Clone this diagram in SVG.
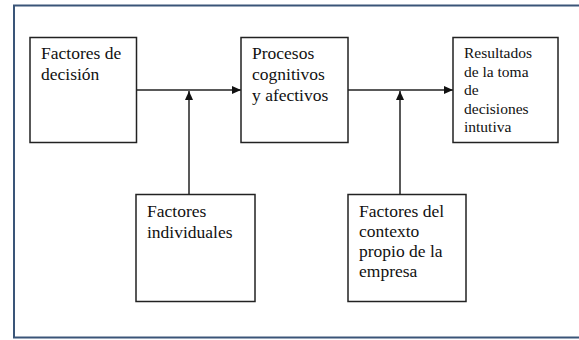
<svg xmlns="http://www.w3.org/2000/svg" width="579" height="340" viewBox="0 0 579 340">
<style>
.box{fill:#fff;stroke:#222;stroke-width:1.5}
text{font-family:"Liberation Serif","Times New Roman",Times,serif;fill:#111}
.t{font-size:17.5px}
.ts{font-size:15.5px}
.c{stroke:#222;stroke-width:1.5;fill:none}
</style>
<defs>
<marker id="ah" markerWidth="10" markerHeight="8" refX="9" refY="4" orient="auto" markerUnits="userSpaceOnUse">
<path d="M0,0 L9,4 L0,8 Z" fill="#111"/>
</marker>
</defs>
<rect x="0" y="0" width="579" height="340" fill="#fff"/>
<rect id="frame" x="14" y="5.5" width="570" height="332" fill="#fff" stroke="#3a5578" stroke-width="2"/>
<g id="connectors">
<line class="c" x1="136.5" y1="90" x2="241" y2="90" marker-end="url(#ah)"/>
<line class="c" x1="189" y1="194" x2="189" y2="91" marker-end="url(#ah)"/>
<line class="c" x1="348" y1="90" x2="453" y2="90" marker-end="url(#ah)"/>
<line class="c" x1="400" y1="194" x2="400" y2="91" marker-end="url(#ah)"/>
</g>
<g id="n1"><rect class="box" x="30" y="37.5" width="106.5" height="105"/>
<text class="t" x="41" y="59">Factores de</text><text class="t" x="41" y="80">decisión</text></g>
<g id="n2"><rect class="box" x="241" y="37.5" width="107" height="105"/>
<text class="t" x="252" y="59">Procesos</text><text class="t" x="252" y="80">cognitivos</text><text class="t" x="252" y="101">y afectivos</text></g>
<g id="n3"><rect class="box" x="453" y="37.5" width="105" height="105"/>
<text class="ts" x="464" y="58">Resultados</text><text class="ts" x="464" y="76.5">de la toma</text><text class="ts" x="464" y="95">de</text><text class="ts" x="464" y="113.5">decisiones</text><text class="ts" x="464" y="132">intutiva</text></g>
<g id="n4"><rect class="box" x="136" y="194.5" width="119" height="107"/>
<text class="t" x="147" y="217">Factores</text><text class="t" x="147" y="238">individuales</text></g>
<g id="n5"><rect class="box" x="348" y="194.5" width="118" height="107"/>
<text class="t" x="359" y="217">Factores del</text><text class="t" x="359" y="237">contexto</text><text class="t" x="359" y="257">propio de la</text><text class="t" x="359" y="277">empresa</text></g>
</svg>
